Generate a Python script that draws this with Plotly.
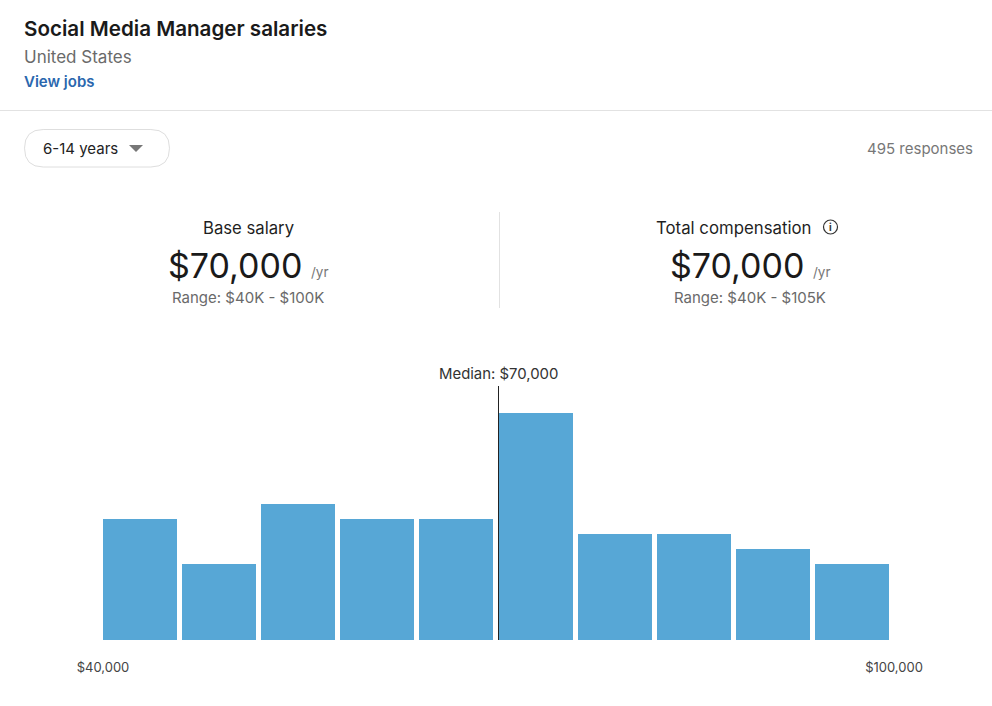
import plotly.graph_objects as go

# salary bins, responses
bin_starts = [40000, 46000, 52000, 58000, 64000, 70000, 76000, 82000, 88000, 94000]
counts = [8, 5, 9, 8, 8, 15, 7, 7, 6, 5]
median_salary = 70000
tick_vals = [40000, 100000]
tick_labels = ['$40,000', '$100,000']

FONT = 'Inter'
W, H = 992, 706
L, R, T, B = 103, 894, 386, 640

def fx(px):
    return (px - L) / (R - L)

def fy(py):
    return (B - py) / (B - T)

def label(px, py, text, size, color='#1f1f1f', anchor='center', weight=None):
    fig.add_annotation(x=fx(px), y=fy(py), xref='paper', yref='paper', text=text, showarrow=False,
                       xanchor=anchor, yanchor='middle', borderpad=0,
                       font=dict(family=FONT, size=size, color=color, weight=weight))

fig = go.Figure()
fig.add_trace(go.Bar(x=bin_starts, y=counts, width=5620, offset=0, marker=dict(color='#57a7d6', line_width=0)))

# median line over the bars
fig.add_shape(type='line', xref='x', yref='paper', x0=median_salary, x1=median_salary, y0=0, y1=1,
              line=dict(color='#222222', width=1), layer='above')

# header rule and the divider between the two figures
fig.add_shape(type='line', xref='paper', yref='paper', x0=fx(0), x1=fx(W), y0=fy(110.5), y1=fy(110.5),
              line=dict(color='#e2e2e2', width=1))
fig.add_shape(type='line', xref='paper', yref='paper', x0=fx(499.5), x1=fx(499.5), y0=fy(212), y1=fy(308),
              line=dict(color='#e2e2e2', width=1))

# dropdown pill
x0, x1, y0, y1, r = 24.5, 169.5, 129.5, 167, 18.7
pill = (f'M {fx(x0 + r)} {fy(y0)} L {fx(x1 - r)} {fy(y0)} '
        f'Q {fx(x1)} {fy(y0)} {fx(x1)} {fy(y0 + r)} Q {fx(x1)} {fy(y1)} {fx(x1 - r)} {fy(y1)} '
        f'L {fx(x0 + r)} {fy(y1)} Q {fx(x0)} {fy(y1)} {fx(x0)} {fy(y0 + r)} Q {fx(x0)} {fy(y0)} {fx(x0 + r)} {fy(y0)} Z')
fig.add_shape(type='path', xref='paper', yref='paper', path=pill, line=dict(color='#dedede', width=1))
tri = f'M {fx(129)} {fy(145)} L {fx(143)} {fy(145)} L {fx(136)} {fy(152)} Z'
fig.add_shape(type='path', xref='paper', yref='paper', path=tri, fillcolor='#777777', line_width=0)

# info icon
fig.add_shape(type='circle', xref='paper', yref='paper', x0=fx(823.5), x1=fx(837.5), y0=fy(234), y1=fy(220),
              line=dict(color='#333333', width=1.2))
label(830.5, 227, 'i', 10, '#333333', weight=700)

label(23, 28.5, 'Social Media Manager salaries', 20.6, '#1a1a1a', 'left', 600)
label(23, 56.5, 'United States', 17, '#6a6a6a', 'left')
label(23, 81.5, 'View jobs', 15, '#2a67ae', 'left', 600)
label(42, 148.5, '6-14 years', 15, '#222222', 'left')
label(974, 148.5, '495 responses', 15, '#777777', 'right')

label(248, 227.5, 'Base salary', 16.7)
label(234.5, 265.5, '$70,000', 34, '#1a1a1a')
label(310, 271.5, '/yr', 13.5, '#777777', 'left')
label(248, 297.5, 'Range: $40K - $100K', 15, '#6a6a6a')

label(733.5, 227.5, 'Total compensation', 16.8)
label(736.5, 265.5, '$70,000', 34, '#1a1a1a')
label(812, 271.5, '/yr', 13.5, '#777777', 'left')
label(750, 297.5, 'Range: $40K - $105K', 15, '#6a6a6a')

fig.add_annotation(x=median_salary, y=fy(373.5), xref='x', yref='paper', text=f'Median: ${median_salary:,}',
                   showarrow=False, xanchor='center', yanchor='middle',
                   font=dict(family=FONT, size=14.9, color='#333333'))

fig.update_layout(width=W, height=H, margin=dict(l=L, r=W - R, t=T, b=H - B, pad=0),
                  paper_bgcolor='white', plot_bgcolor='white', showlegend=False, bargap=0)
fig.update_xaxes(range=[40000, 100000], tickvals=tick_vals, ticktext=tick_labels, showgrid=False, zeroline=False,
                 showline=False, ticks='outside', ticklen=15, tickcolor='rgba(0,0,0,0)',
                 tickfont=dict(family=FONT, size=13, color='#444444'))
fig.update_yaxes(range=[0, (B - T) / 15.13], showticklabels=False, showgrid=False, zeroline=False, showline=False)

# the page's default body margin would push everything 8px in
fig.write_html('out.html', config=dict(displayModeBar=False), post_script="document.body.style.margin='0';")
